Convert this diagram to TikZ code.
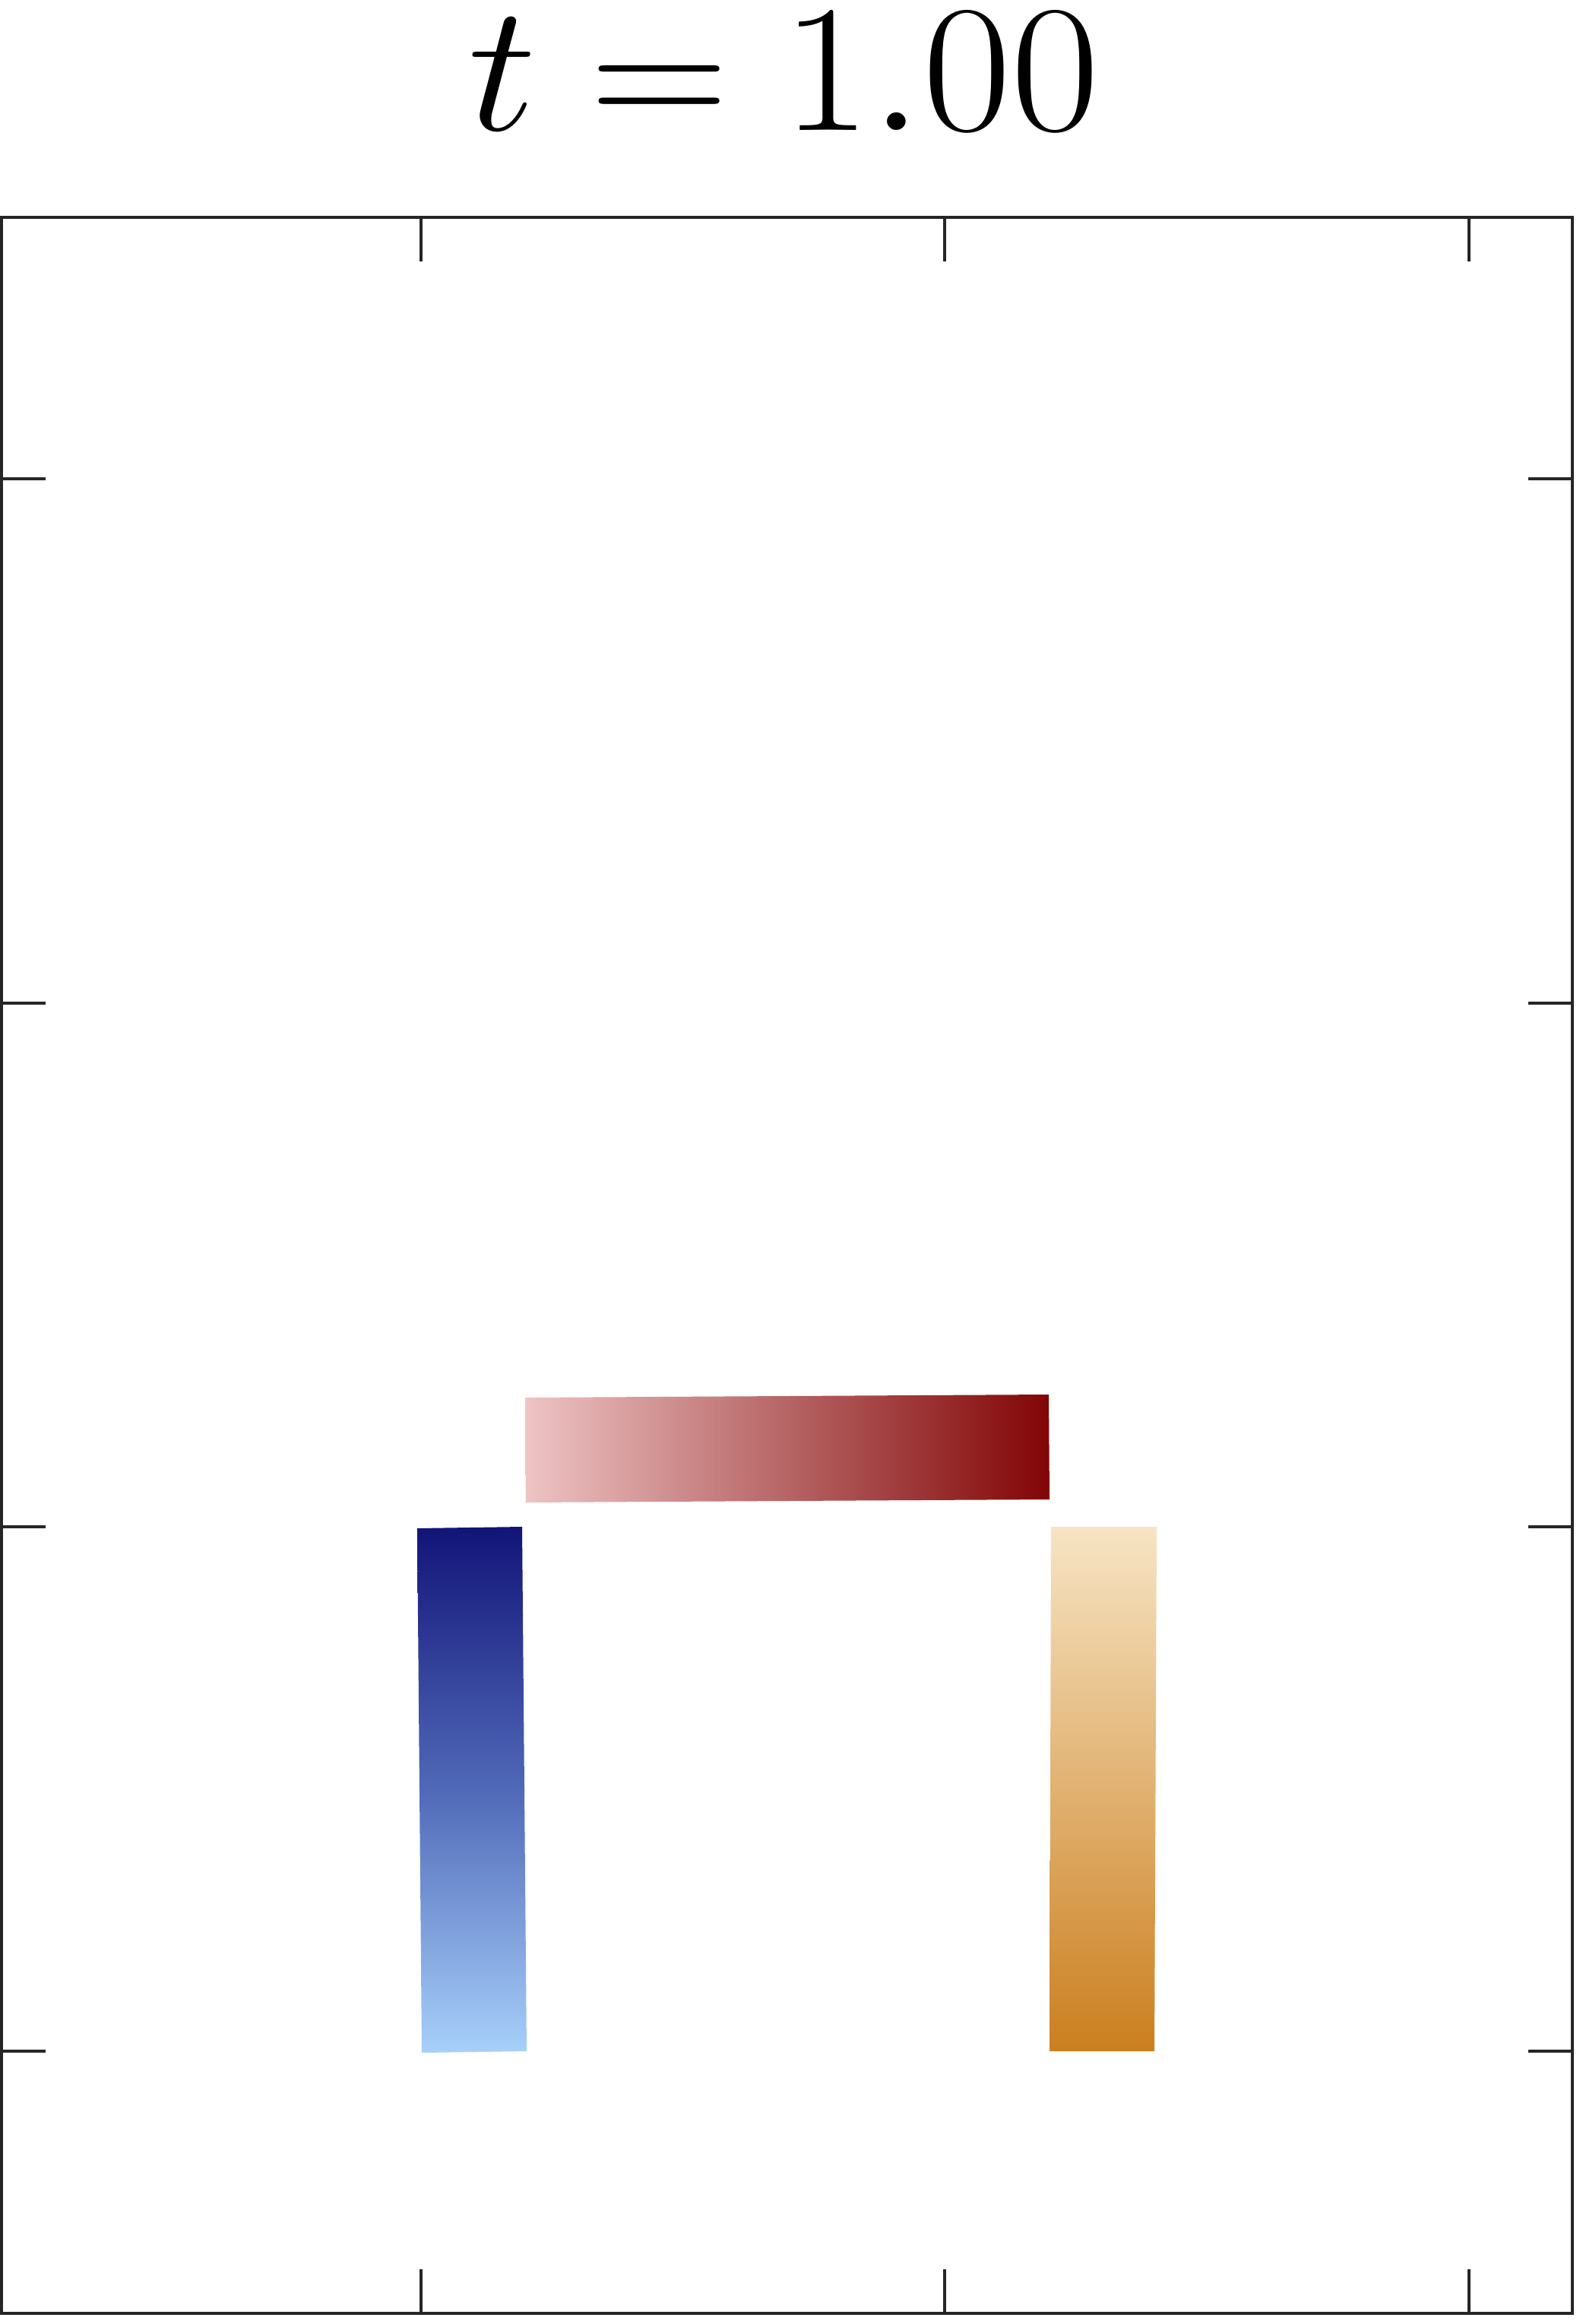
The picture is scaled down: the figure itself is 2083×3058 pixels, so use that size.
\RequirePackage{fix-cm}
\documentclass[tikz,border=0pt]{standalone}
\definecolor{framec}{RGB}{38,38,38}
\definecolor{bluetop}{RGB}{18,20,120}
\definecolor{bluemid}{RGB}{80,105,184}
\definecolor{bluebot}{RGB}{167,208,250}
\definecolor{redleft}{RGB}{238,196,197}
\definecolor{redmid}{RGB}{182,100,100}
\definecolor{redright}{RGB}{130,5,6}
\definecolor{ortop}{RGB}{247,228,196}
\definecolor{orbot}{RGB}{203,127,31}
\begin{document}
\begin{tikzpicture}[x=0.01cm,y=-0.01cm,
  frameline/.style={draw=framec,line width=1.15pt},
  tickline/.style={draw=framec,line width=1.15pt}]
\useasboundingbox (0,0) rectangle (2083,3058);
% title
\node[anchor=base,inner sep=0pt,xscale=1.06] (title) at (1032,172) {\fontsize{68}{82}\selectfont $t = 1.00$};
% bars
\shade[top color=bluetop,bottom color=bluebot,middle color=bluemid]
  (549,2011) -- (687,2009) -- (693,2699) -- (555,2701) -- cycle;
\shade[left color=redleft,right color=redright,middle color=redmid]
  (691,1839) -- (1380,1835) -- (1381,1973) -- (692,1977) -- cycle;
\shade[top color=ortop,bottom color=orbot]
  (1383,2009) -- (1522,2009) -- (1519,2699) -- (1381,2699) -- cycle;
% frame
\draw[frameline] (2,286) rectangle (2069,3044);
\foreach \x in {554,1243,1933}{
  \draw[tickline] (\x,286) -- (\x,344);
  \draw[tickline] (\x,3044) -- (\x,2986);
}
\foreach \y in {630,1320,2009,2699}{
  \draw[tickline] (2,\y) -- (60,\y);
  \draw[tickline] (2069,\y) -- (2011,\y);
}
\end{tikzpicture}
\end{document}
